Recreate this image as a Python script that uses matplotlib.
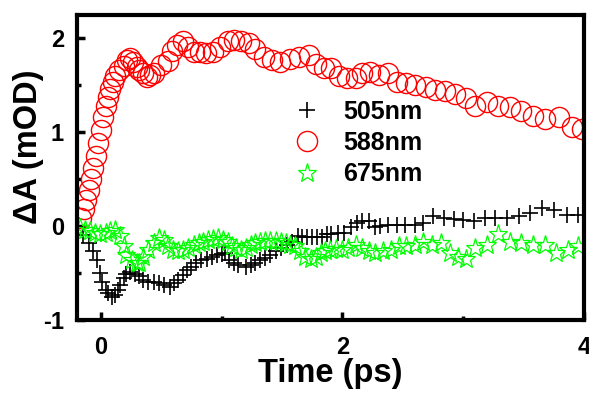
import matplotlib
matplotlib.use("Agg")
import matplotlib.pyplot as plt
from matplotlib.ticker import MultipleLocator

plt.rcParams["font.family"] = ["Liberation Sans", "DejaVu Sans"]
plt.rcParams["font.weight"] = "bold"
plt.rcParams["axes.unicode_minus"] = False

# 505 nm (black crosses)
t505 = [-0.15, -0.10, -0.06, -0.03, -0.01, 0.01, 0.04, 0.06, 0.09, 0.12, 0.14, 0.16,
        0.19, 0.21, 0.24, 0.28, 0.32, 0.35, 0.39, 0.44, 0.48, 0.52, 0.57, 0.61, 0.64,
        0.68, 0.71, 0.75, 0.79, 0.83, 0.88, 0.92, 0.96, 1.00, 1.03, 1.06, 1.10, 1.14,
        1.20, 1.24, 1.28, 1.32, 1.36, 1.40, 1.45, 1.49, 1.54, 1.58, 1.63, 1.67, 1.71,
        1.75, 1.79, 1.83, 1.87, 1.91, 1.96, 2.01, 2.07, 2.12, 2.16, 2.22, 2.27, 2.31,
        2.38, 2.45, 2.52, 2.60, 2.67, 2.75, 2.84, 2.92, 3.00, 3.09, 3.18, 3.26, 3.36,
        3.46, 3.55, 3.65, 3.75, 3.86, 3.95]
a505 = [-0.10, -0.18, -0.27, -0.36, -0.50, -0.60, -0.69, -0.72, -0.76, -0.74, -0.69, -0.63,
        -0.56, -0.51, -0.49, -0.51, -0.54, -0.58, -0.60, -0.60, -0.61, -0.63, -0.65, -0.61, -0.58,
        -0.52, -0.47, -0.44, -0.40, -0.37, -0.35, -0.33, -0.31, -0.30, -0.29, -0.36, -0.40, -0.42,
        -0.44, -0.42, -0.40, -0.36, -0.34, -0.31, -0.27, -0.24, -0.20, -0.17, -0.11, -0.12, -0.12,
        -0.12, -0.12, -0.12, -0.09, -0.09, -0.08, -0.08, -0.01, 0.03, 0.05, 0.05, -0.01, 0.00,
        0.01, 0.01, 0.01, 0.01, 0.03, 0.10, 0.08, 0.07, 0.06, 0.05, 0.08, 0.08, 0.08,
        0.10, 0.14, 0.19, 0.17, 0.12, 0.12]

# 588 nm (red circles)
t588 = [-0.16, -0.14, -0.12, -0.10, -0.08, -0.06, -0.04, -0.02, 0.00, 0.02, 0.04, 0.06,
        0.08, 0.10, 0.12, 0.15, 0.19, 0.22, 0.24, 0.27, 0.30, 0.32, 0.35, 0.38, 0.41,
        0.44, 0.50, 0.56, 0.59, 0.63, 0.68, 0.72, 0.77, 0.82, 0.87, 0.93, 0.99, 1.05,
        1.10, 1.16, 1.23, 1.28, 1.35, 1.42, 1.48, 1.57, 1.64, 1.72, 1.78, 1.85, 1.91,
        1.97, 2.04, 2.11, 2.16, 2.23, 2.30, 2.38, 2.45, 2.53, 2.60, 2.69, 2.77, 2.85,
        2.93, 3.02, 3.10, 3.20, 3.29, 3.39, 3.48, 3.58, 3.68, 3.79, 3.90, 3.98]
a588 = [0.08, 0.18, 0.28, 0.38, 0.50, 0.62, 0.74, 0.88, 1.02, 1.16, 1.28, 1.38,
        1.46, 1.54, 1.60, 1.66, 1.71, 1.77, 1.79, 1.75, 1.69, 1.66, 1.63, 1.59, 1.61,
        1.63, 1.72, 1.76, 1.87, 1.93, 1.97, 1.91, 1.86, 1.85, 1.84, 1.85, 1.91, 1.97,
        1.98, 1.97, 1.95, 1.89, 1.80, 1.77, 1.75, 1.78, 1.80, 1.82, 1.73, 1.68, 1.68,
        1.60, 1.58, 1.58, 1.63, 1.64, 1.61, 1.63, 1.54, 1.52, 1.50, 1.48, 1.45, 1.44,
        1.41, 1.36, 1.28, 1.32, 1.28, 1.27, 1.23, 1.17, 1.14, 1.16, 1.05, 1.03]

# 675 nm (green stars)
t675 = [-0.17, -0.13, -0.09, -0.05, -0.01, 0.04, 0.08, 0.12, 0.16, 0.19, 0.21, 0.26,
        0.30, 0.32, 0.35, 0.39, 0.44, 0.48, 0.52, 0.56, 0.60, 0.64, 0.68, 0.72, 0.77,
        0.81, 0.85, 0.89, 0.93, 0.97, 1.01, 1.05, 1.09, 1.12, 1.16, 1.20, 1.24, 1.28,
        1.32, 1.36, 1.40, 1.45, 1.49, 1.53, 1.57, 1.61, 1.65, 1.69, 1.74, 1.78, 1.82,
        1.86, 1.90, 1.95, 2.00, 2.05, 2.11, 2.16, 2.22, 2.27, 2.34, 2.40, 2.47, 2.53,
        2.60, 2.67, 2.74, 2.82, 2.89, 2.96, 3.02, 3.10, 3.20, 3.29, 3.39, 3.48, 3.58,
        3.68, 3.77, 3.87, 3.95]
a675 = [-0.02, -0.04, -0.06, -0.08, -0.09, -0.08, -0.06, -0.04, -0.11, -0.22, -0.31, -0.36,
        -0.40, -0.40, -0.33, -0.26, -0.18, -0.13, -0.15, -0.22, -0.26, -0.27, -0.26, -0.24, -0.20,
        -0.18, -0.17, -0.15, -0.14, -0.13, -0.15, -0.17, -0.21, -0.24, -0.26, -0.24, -0.20, -0.18,
        -0.17, -0.16, -0.16, -0.16, -0.17, -0.18, -0.20, -0.22, -0.27, -0.33, -0.35, -0.33, -0.29,
        -0.27, -0.26, -0.25, -0.26, -0.24, -0.20, -0.24, -0.27, -0.29, -0.27, -0.26, -0.22, -0.22,
        -0.20, -0.17, -0.20, -0.18, -0.29, -0.33, -0.35, -0.24, -0.20, -0.09, -0.17, -0.18, -0.20,
        -0.20, -0.29, -0.26, -0.22]

fig = plt.figure(figsize=(5.89, 3.94), dpi=100)
ax = fig.add_axes([0.130, 0.189, 0.8615, 0.773])

ax.plot(t505, a505, ls="none", marker="+", ms=11, mew=1.2, color="black", label="505nm")
ax.plot(t588, a588, ls="none", marker="o", ms=14.5, mew=1.0, mfc="none", mec="red", label="588nm")
ax.plot(t675, a675, ls="none", marker="*", ms=14, mew=0.9, mfc="none", mec="#00ff00", label="675nm")

ax.set_xlim(-0.2, 4.0)
ax.set_ylim(-1.0, 2.25)
ax.xaxis.set_major_locator(MultipleLocator(2))
ax.xaxis.set_minor_locator(MultipleLocator(1))
ax.yaxis.set_major_locator(MultipleLocator(1))
ax.yaxis.set_minor_locator(MultipleLocator(0.5))
ax.tick_params(which="both", direction="in", width=2.5, labelsize=17, top=False, right=False)
ax.tick_params(which="major", length=5.5)
ax.tick_params(which="minor", length=3)
ax.tick_params(axis="x", pad=12)
ax.tick_params(axis="y", pad=9)
for s in ax.spines.values():
    s.set_linewidth(3)

ax.set_xlabel("Time (ps)", fontsize=23.5, fontweight="bold")
ax.set_ylabel("ΔA (mOD)", fontsize=23.5, fontweight="bold")
ax.xaxis.set_label_coords(0.5, -0.125)
ax.yaxis.set_label_coords(-0.094, 0.566)
ax.yaxis.label.set_va("center")

ax.legend(loc="upper left", bbox_to_anchor=(0.4296, 0.721), frameon=False, borderpad=0,
          borderaxespad=0, handlelength=1.0, handletextpad=0.94, labelspacing=0.29,
          prop={"size": 18, "weight": "bold"})

fig.savefig("out.png", dpi=100)
